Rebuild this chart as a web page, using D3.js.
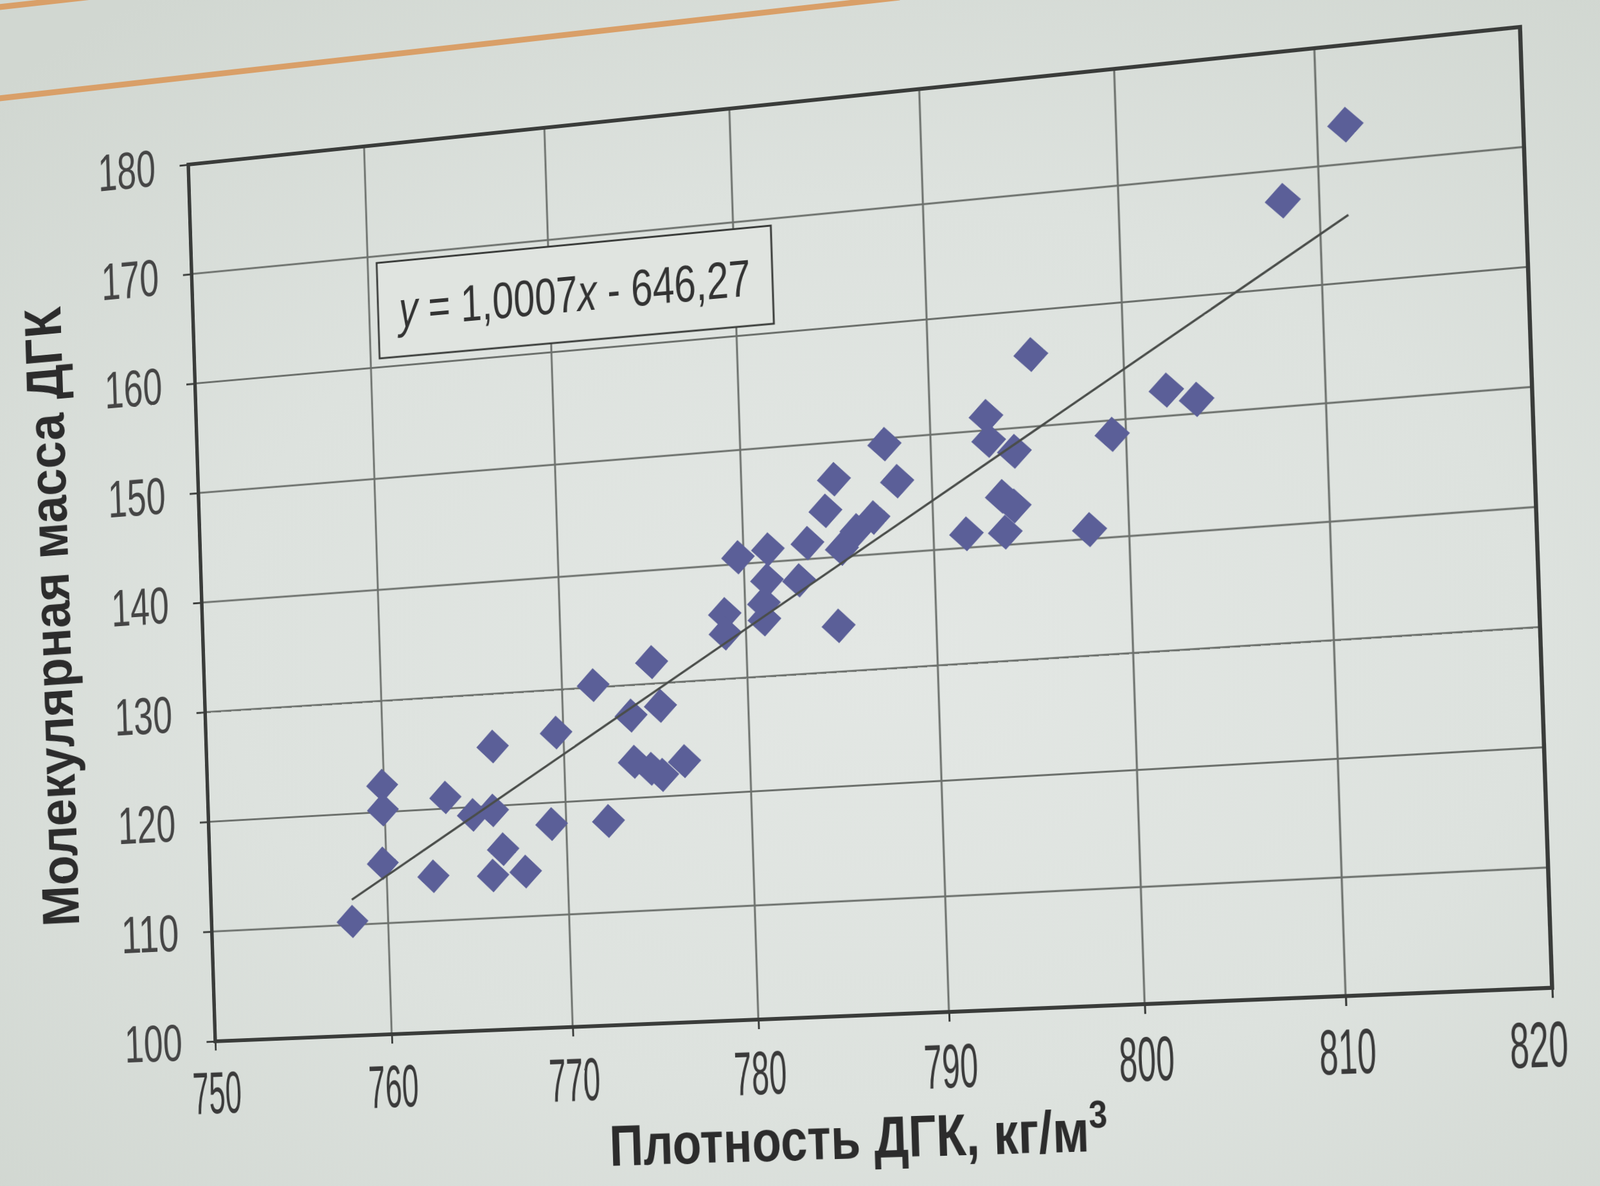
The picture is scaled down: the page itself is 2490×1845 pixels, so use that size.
<!DOCTYPE html>
<html>
<head>
<meta charset="utf-8">
<script src="https://cdn.jsdelivr.net/npm/d3@7"></script>
<style>
  html, body { margin: 0; padding: 0; }
  body {
    width: 2490px; height: 1845px; overflow: hidden; position: relative;
    background: radial-gradient(ellipse 75% 70% at 55% 55%, #e3e7e4 0%, #dde2de 55%, #d1d7d1 100%);
  }
  #deco { position: absolute; left: 0; top: 0; }
  #sheet { position: absolute; left: 0; top: 0; transform-origin: 0 0; }
  text { font-family: "Liberation Sans Narrow", "Liberation Sans", Arial, sans-serif; }
</style>
</head>
<body>
<svg id="deco" width="2490" height="1845"></svg>
<div id="sheet"></div>
<script>

/*
DATA
*/
var density = [758.0, 759.9, 759.9, 759.8, 762.6, 763.4, 764.9, 766.0, 766.1, 766.5,
  765.9, 767.7, 769.2, 769.6, 771.7, 772.3, 773.7, 774.9, 775.3, 773.8,
  774.7, 775.3, 776.5, 778.9, 778.9, 779.7, 781.3, 781.2, 782.9, 783.4,
  781.0, 781.0, 784.9, 784.9, 784.4, 786.9, 786.0, 785.2, 787.6, 788.2,
  791.7, 792.9, 793.0, 794.3, 793.6, 794.2, 793.7, 795.3, 798.0, 799.3,
  802.1, 803.6, 808.2, 811.4];
var molMass = [110.3, 122.4, 120.2, 115.4, 114.0, 121.0, 119.3, 119.6, 125.3, 116.1,
  113.8, 114.0, 118.1, 126.2, 130.2, 118.1, 127.3, 131.9, 128.0, 123.2,
  122.5, 121.9, 123.0, 135.7, 134.0, 140.6, 141.1, 138.4, 138.2, 141.4,
  136.4, 135.0, 134.0, 146.8, 144.1, 143.2, 142.2, 140.7, 149.5, 146.2,
  141.2, 151.2, 149.1, 148.0, 144.2, 143.3, 141.1, 156.2, 140.8, 148.8,
  152.2, 151.2, 167.4, 173.3];

var xTicks = [750, 760, 770, 780, 790, 800, 810, 820];
var yTicks = [100, 110, 120, 130, 140, 150, 160, 170, 180];

// linear trend given on the chart
var trendSlope = 1.0007;
var trendIntercept = -646.27;

var xTitle = "Плотность ДГК, кг/м";
var xTitleSup = "3";
var yTitle = "Молекулярная масса ДГК";

/*
LAYOUT (flat sheet, later warped to the photo's perspective)
*/
var plot = { left: 400, top: 250, right: 2500, bottom: 1680 };
// where the plot corners land in the photo: TL, TR, BR, BL
var corners = [[293, 256], [2366, 42], [2416, 1537], [335, 1620]];
// equation label box, in data units
var eqBox = { x0: 760.5, x1: 782.0, y0: 160.8, y1: 169.4 };

var ink = "#3a3c3a",
  gridColor = "#6c706c",
  markColor = "#5b5f98";

var x = d3.scaleLinear().domain([750, 820]).range([plot.left, plot.right]);
var y = d3.scaleLinear().domain([100, 180]).range([plot.bottom, plot.top]);

var svg = d3.select("#sheet").append("svg")
    .attr("width", 2800)
    .attr("height", 2100);

// grid
svg.append("g").selectAll("line")
  .data(xTicks.slice(1, -1))
  .enter().append("line")
    .attr("x1", function(d) { return x(d); })
    .attr("x2", function(d) { return x(d); })
    .attr("y1", plot.top)
    .attr("y2", plot.bottom)
    .attr("stroke", gridColor)
    .attr("stroke-width", 3);

svg.append("g").selectAll("line")
  .data(yTicks.slice(1, -1))
  .enter().append("line")
    .attr("x1", plot.left)
    .attr("x2", plot.right)
    .attr("y1", function(d) { return y(d); })
    .attr("y2", function(d) { return y(d); })
    .attr("stroke", gridColor)
    .attr("stroke-width", 3.2);

// axes: ticks point outward, labels condensed
var xAxis = svg.append("g")
    .attr("transform", "translate(0," + plot.bottom + ")")
    .call(d3.axisBottom(x).tickValues(xTicks).tickSize(15).tickPadding(0).tickFormat(d3.format("d")));
xAxis.select(".domain").remove();
xAxis.selectAll(".tick line").attr("stroke", ink).attr("stroke-width", 3);
xAxis.selectAll(".tick text")
    .attr("y", 117)
    .attr("dy", null)
    .attr("fill", "#3a3a3a")
    .attr("font-size", 96)
    .attr("textLength", 84)
    .attr("lengthAdjust", "spacingAndGlyphs");
// last label is pulled inside the chart area, as in the original
xAxis.selectAll(".tick text")
    .filter(function(d) { return d === xTicks[xTicks.length - 1]; })
    .attr("dx", -22);

var yAxis = svg.append("g")
    .attr("transform", "translate(" + plot.left + ",0)")
    .call(d3.axisLeft(y).tickValues(yTicks).tickSize(15).tickPadding(0).tickFormat(d3.format("d")));
yAxis.select(".domain").remove();
yAxis.selectAll(".tick line").attr("stroke", ink).attr("stroke-width", 3);
yAxis.selectAll(".tick text")
    .attr("x", -57)
    .attr("dy", "0.33em")
    .attr("fill", "#454545")
    .attr("font-size", 86)
    .attr("textLength", 100)
    .attr("lengthAdjust", "spacingAndGlyphs");

// plot frame
svg.append("rect")
    .attr("x", plot.left)
    .attr("y", plot.top)
    .attr("width", plot.right - plot.left)
    .attr("height", plot.bottom - plot.top)
    .attr("fill", "none")
    .attr("stroke", ink)
    .attr("stroke-width", 6);

// points
var points = density.map(function(d, i) { return { x: d, y: molMass[i] }; });
var diamond = d3.symbol().type(d3.symbolSquare).size(1450);

svg.append("g").selectAll("path")
  .data(points)
  .enter().append("path")
    .attr("d", diamond)
    .attr("transform", function(d) {
      return "translate(" + x(d.x) + "," + y(d.y) + ") rotate(45)";
    })
    .attr("fill", markColor);

// trend line over the points
var xr = d3.extent(density);
svg.append("line")
    .attr("x1", x(xr[0]))
    .attr("y1", y(trendSlope * xr[0] + trendIntercept))
    .attr("x2", x(xr[1]))
    .attr("y2", y(trendSlope * xr[1] + trendIntercept))
    .attr("stroke", "#4a4d4a")
    .attr("stroke-width", 3.5);

// equation label
svg.append("rect")
    .attr("x", x(eqBox.x0))
    .attr("y", y(eqBox.y1))
    .attr("width", x(eqBox.x1) - x(eqBox.x0))
    .attr("height", y(eqBox.y0) - y(eqBox.y1))
    .attr("fill", "#e0e4e0")
    .attr("stroke", ink)
    .attr("stroke-width", 3);

var eq = svg.append("text")
    .attr("x", (x(eqBox.x0) + x(eqBox.x1)) / 2)
    .attr("y", (y(eqBox.y0) + y(eqBox.y1)) / 2)
    .attr("dy", "0.36em")
    .attr("text-anchor", "middle")
    .attr("font-size", 82)
    .attr("fill", "#333")
    .attr("textLength", 575)
    .attr("lengthAdjust", "spacingAndGlyphs");
eq.append("tspan").attr("font-style", "italic").text("y");
eq.append("tspan").text(" = " + trendSlope.toFixed(4).replace(".", ","));
eq.append("tspan").attr("font-style", "italic").text("x");
eq.append("tspan").text(" - " + Math.abs(trendIntercept).toFixed(2).replace(".", ","));

// axis titles
var xt = svg.append("text")
    .attr("x", plot.left + 1046)
    .attr("y", plot.bottom + 222)
    .attr("text-anchor", "middle")
    .attr("font-size", 90)
    .attr("font-weight", "bold")
    .attr("fill", "#2c2c2c")
    .attr("textLength", 784)
    .attr("lengthAdjust", "spacingAndGlyphs");
xt.append("tspan").text(xTitle);
xt.append("tspan").attr("font-size", 60).attr("dy", -36).text(xTitleSup);

svg.append("text")
    .attr("transform", "translate(" + (plot.left - 230) + "," + (plot.top + 721) + ") rotate(-90)")
    .attr("text-anchor", "middle")
    .attr("font-size", 92)
    .attr("font-weight", "bold")
    .attr("fill", "#2c2c2c")
    .attr("textLength", 1020)
    .attr("lengthAdjust", "spacingAndGlyphs")
    .text(yTitle);

/*
PERSPECTIVE: map the flat plot rectangle onto the photographed quad
*/
function squareToQuad(p) {
  var sx = p[0][0] - p[1][0] + p[2][0] - p[3][0],
    sy = p[0][1] - p[1][1] + p[2][1] - p[3][1],
    dx1 = p[1][0] - p[2][0], dx2 = p[3][0] - p[2][0],
    dy1 = p[1][1] - p[2][1], dy2 = p[3][1] - p[2][1],
    den = dx1 * dy2 - dx2 * dy1,
    g = (sx * dy2 - dx2 * sy) / den,
    h = (dx1 * sy - sx * dy1) / den;
  return [
    [p[1][0] - p[0][0] + g * p[1][0], p[3][0] - p[0][0] + h * p[3][0], p[0][0]],
    [p[1][1] - p[0][1] + g * p[1][1], p[3][1] - p[0][1] + h * p[3][1], p[0][1]],
    [g, h, 1]
  ];
}

function mul(a, b) {
  var r = [[0, 0, 0], [0, 0, 0], [0, 0, 0]];
  for (var i = 0; i < 3; i++)
    for (var j = 0; j < 3; j++)
      for (var k = 0; k < 3; k++) r[i][j] += a[i][k] * b[k][j];
  return r;
}

var W = plot.right - plot.left, H = plot.bottom - plot.top;
var toUnit = [[1 / W, 0, -plot.left / W], [0, 1 / H, -plot.top / H], [0, 0, 1]];
var M = mul(squareToQuad(corners), toUnit);

d3.select("#sheet").style("transform", "matrix3d(" + [
  M[0][0], M[1][0], 0, M[2][0],
  M[0][1], M[1][1], 0, M[2][1],
  0, 0, 1, 0,
  M[0][2], M[1][2], 0, M[2][2]
].join(",") + ")");

// page rule lines at the top of the photo
var deco = d3.select("#deco");
deco.append("line")
    .attr("x1", -10).attr("y1", 154).attr("x2", 1400).attr("y2", -4)
    .attr("stroke", "#d99f68").attr("stroke-width", 9);
deco.append("line")
    .attr("x1", -10).attr("y1", 12).attr("x2", 170).attr("y2", -8)
    .attr("stroke", "#d99f68").attr("stroke-width", 9);

</script>
</body>
</html>
